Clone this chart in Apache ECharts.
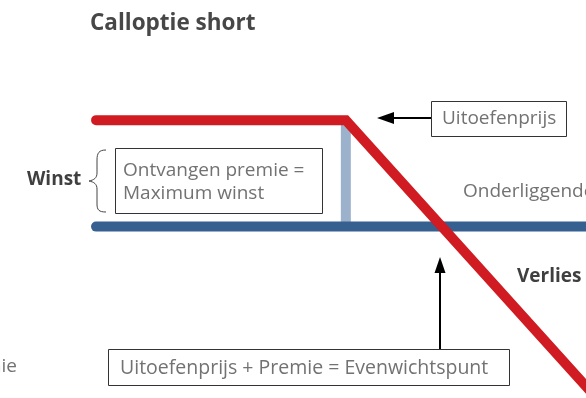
<!DOCTYPE html>
<html>
<head>
<meta charset="utf-8">
<script src="https://cdn.jsdelivr.net/npm/echarts@6/dist/echarts.min.js"></script>
<style>
  html, body { margin: 0; padding: 0; background: #fff; }
  #chart { width: 586px; height: 398px; }
</style>
</head>
<body>
<div id="chart"></div>
<script>
// Data: short call payoff (underlying price vs. profit)
const strikePrice = 100;
const premium = 10;
const payoffPrices = [74, 100, 130];
const payoffProfits = [10, 10, -20];
const zeroLinePrices = [74, 130];
const zeroLineProfits = [0, 0];
const premiumBarPrices = [100, 100];
const premiumBarProfits = [0, 10];

const titleText = 'Calloptie short';
const labelStrike = 'Uitoefenprijs';
const labelUnderlying = 'Onderliggende waarde';
const labelPremiumLines = ['Ontvangen premie =', 'Maximum winst'];
const labelWinst = 'Winst';
const labelVerlies = 'Verlies';
const labelPremie = 'Premie';
const labelBreakeven = 'Uitoefenprijs + Premie = Evenwichtspunt';

const lightFont = '19px "Open Sans", "Noto Sans", sans-serif';
const boldFont = 'bold 19px "Open Sans", "Noto Sans", sans-serif';
const lightColor = '#727272';
const boldColor = '#3f3f3f';

function pairs(xs, ys) { return xs.map((x, i) => [x, ys[i]]); }
function txt(text, x, y, font, fill, align) {
  return { type: 'text', style: { text: text, x: x, y: y, font: font, fill: fill,
    textAlign: align || 'left', align: align || 'left', textVerticalAlign: 'middle', verticalAlign: 'middle' } };
}

const chart = echarts.init(document.getElementById('chart'), null, { renderer: 'canvas' });

const option = {
  animation: false,
  backgroundColor: '#ffffff',
  grid: { left: 0, right: 0, top: 3, bottom: 1, containLabel: false },
  xAxis: { type: 'value', min: 64, max: 125, show: false },
  yAxis: { type: 'value', min: -16, max: 21, show: false },
  series: [
    {
      type: 'line', data: pairs(premiumBarPrices, premiumBarProfits), symbol: 'none',
      lineStyle: { color: '#9cb1cc', width: 10, cap: 'butt' }, z: 1, silent: true
    },
    {
      type: 'line', data: pairs(zeroLinePrices, zeroLineProfits), symbol: 'none',
      lineStyle: { color: '#35608f', width: 10, cap: 'round' }, z: 2, silent: true
    },
    {
      type: 'line', data: pairs(payoffPrices, payoffProfits), symbol: 'none',
      lineStyle: { color: '#cf1b21', width: 10, cap: 'round', join: 'miter' }, z: 3, silent: true
    }
  ],
  graphic: [
    txt(titleText, 90, 24, 'bold 22.5px "Open Sans", "Noto Sans", sans-serif', '#474747'),
    // Strike label box + arrow
    { type: 'rect', shape: { x: 431.5, y: 101.5, width: 135, height: 35 }, style: { fill: '#fff', stroke: '#333', lineWidth: 1 } },
    txt(labelStrike, 442, 119, lightFont, lightColor),
    { type: 'line', shape: { x1: 431, y1: 118, x2: 390, y2: 118 }, style: { stroke: '#000', lineWidth: 2 } },
    { type: 'polygon', shape: { points: [[377, 118], [394, 112], [394, 124]] }, style: { fill: '#000' } },
    // Underlying label
    txt(labelUnderlying, 463, 192, lightFont, lightColor),
    // Premium box
    { type: 'rect', shape: { x: 115.5, y: 148.5, width: 207, height: 65 }, style: { fill: '#fff', stroke: '#333', lineWidth: 1 } },
    txt(labelPremiumLines[0], 123, 171, lightFont, lightColor),
    txt(labelPremiumLines[1], 123, 194, lightFont, lightColor),
    // Brace
    { type: 'bezierCurve', shape: { x1: 106, y1: 150, cpx1: 99, cpy1: 150, cpx2: 97, cpy2: 153, x2: 97, y2: 160 }, style: { fill: null, stroke: '#444', lineWidth: 1 } },
    { type: 'line', shape: { x1: 97, y1: 160, x2: 97, y2: 173 }, style: { stroke: '#444', lineWidth: 1 } },
    { type: 'bezierCurve', shape: { x1: 97, y1: 173, cpx1: 97, cpy1: 178, cpx2: 94, cpy2: 180, x2: 89, y2: 181 }, style: { fill: null, stroke: '#444', lineWidth: 1 } },
    { type: 'bezierCurve', shape: { x1: 89, y1: 181, cpx1: 94, cpy1: 182, cpx2: 97, cpy2: 184, x2: 97, y2: 189 }, style: { fill: null, stroke: '#444', lineWidth: 1 } },
    { type: 'line', shape: { x1: 97, y1: 189, x2: 97, y2: 204 }, style: { stroke: '#444', lineWidth: 1 } },
    { type: 'bezierCurve', shape: { x1: 97, y1: 204, cpx1: 97, cpy1: 210, cpx2: 99, cpy2: 212, x2: 106, y2: 212 }, style: { fill: null, stroke: '#444', lineWidth: 1 } },
    txt(labelWinst, 27, 180, boldFont, boldColor),
    // Verlies
    txt(labelVerlies, 517, 277, boldFont, boldColor),
    // Premie (clipped at left edge)
    txt(labelPremie, 17, 367, lightFont, lightColor, 'right'),
    // Breakeven box + arrow
    { type: 'rect', shape: { x: 108.5, y: 349.5, width: 401, height: 36 }, style: { fill: '#fff', stroke: '#333', lineWidth: 1 } },
    txt(labelBreakeven, 120, 368, '19.5px "Open Sans", "Noto Sans", sans-serif', lightColor),
    { type: 'line', shape: { x1: 440, y1: 349, x2: 440, y2: 270 }, style: { stroke: '#000', lineWidth: 2 } },
    { type: 'polygon', shape: { points: [[440, 257], [434.5, 273], [445.5, 273]] }, style: { fill: '#000' } }
  ]
};

chart.setOption(option);
</script>
</body>
</html>
